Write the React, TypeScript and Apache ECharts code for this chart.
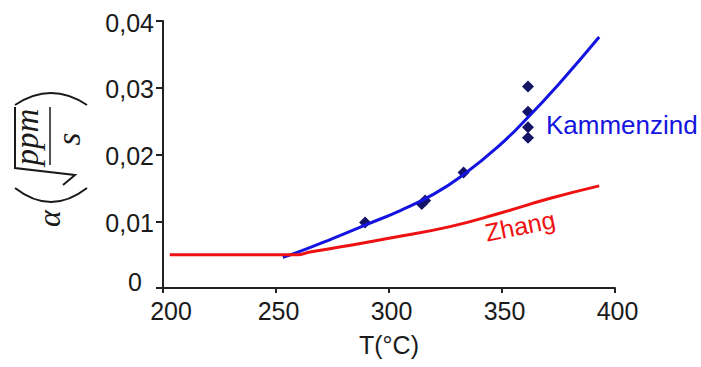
import React, { useEffect, useRef } from "react";
import * as echarts from "echarts";

// Kammenzind fit curve (T in °C, alpha)
const kammenzindT = [253, 260, 275, 290, 305, 320, 333, 348, 361, 375, 393];
const kammenzindA = [0.0046, 0.0054, 0.0074, 0.0095, 0.0116, 0.0141, 0.0170, 0.0211, 0.0254, 0.0305, 0.0376];

// Zhang curve
const zhangT = [203, 260, 265, 283, 300, 327, 349, 371, 393];
const zhangA = [0.005, 0.005, 0.0054, 0.0064, 0.00745, 0.0092, 0.0112, 0.0134, 0.0153];

// Experimental points
const expT = [289.4, 314.5, 316, 333, 361.5, 361.5, 361.5, 361.5];
const expA = [0.0098, 0.0126, 0.0131, 0.0173, 0.0302, 0.0264, 0.0241, 0.0225];

const xTicks = { min: 200, max: 400, interval: 50 };
const yTicks = { min: 0, max: 0.04, interval: 0.01 };

const SANS = '"Liberation Sans", Arial, sans-serif';
const SERIF = '"Liberation Serif", "Times New Roman", serif';
const INK = "#1a1a1a";
const BLUE = "#1414e0";
const RED = "#ee1111";
const NAVY = "#141466";

export default function App() {
  const ref = useRef<HTMLDivElement>(null);

  useEffect(() => {
    if (!ref.current) return;
    const chart = echarts.init(ref.current, null, { renderer: "svg" });
    const zip = (a: number[], b: number[]) => a.map((v, i) => [v, b[i]]);

    const mathFont = `italic 33px ${SERIF}`;

    const option: any = {
      animation: false,
      grid: { left: 163, right: 86, top: 21, bottom: 79, containLabel: false },
      xAxis: {
        type: "value",
        min: xTicks.min,
        max: xTicks.max,
        interval: xTicks.interval,
        name: "T(°C)",
        nameLocation: "middle",
        nameGap: 44,
        nameTextStyle: { fontSize: 25, fontFamily: SANS, color: INK },
        axisLine: { lineStyle: { color: "#222", width: 2 } },
        axisTick: { length: 5, lineStyle: { color: "#222", width: 2 } },
        axisLabel: {
          fontSize: 25,
          fontFamily: SANS,
          color: INK,
          margin: 10,
          formatter: (v: number) => (v === 200 ? `{f|${v}}` : `{n|${v}}`),
          rich: {
            f: { fontSize: 25, fontFamily: SANS, color: INK, padding: [0, 0, 0, 16] },
            n: { fontSize: 25, fontFamily: SANS, color: INK, padding: [0, 0, 0, 5] },
          },
        },
        splitLine: { show: false },
      },
      yAxis: {
        type: "value",
        min: yTicks.min,
        max: yTicks.max,
        interval: yTicks.interval,
        axisLine: { show: true, lineStyle: { color: "#222", width: 2 } },
        axisTick: { show: true, length: 7, lineStyle: { color: "#222", width: 2 } },
        axisLabel: {
          fontSize: 25,
          fontFamily: SANS,
          color: INK,
          margin: 9,
          formatter: (v: number) =>
            v === 0 ? "{z|0}" : `{n|${v.toFixed(2).replace(".", ",")}}`,
          rich: {
            z: { fontSize: 25, fontFamily: SANS, color: INK, padding: [0, 12, 12, 0] },
            n: { fontSize: 25, fontFamily: SANS, color: INK, padding: [3, 0, 0, 0] },
          },
        },
        splitLine: { show: false },
      },
      series: [
        {
          name: "Experiment",
          type: "scatter",
          symbol: "diamond",
          symbolSize: [12, 12],
          itemStyle: { color: NAVY, opacity: 1 },
          data: zip(expT, expA),
          z: 2,
        },
        {
          name: "Kammenzind",
          type: "line",
          smooth: true,
          showSymbol: false,
          lineStyle: { color: BLUE, width: 3 },
          data: zip(kammenzindT, kammenzindA),
          z: 3,
        },
        {
          name: "Zhang",
          type: "line",
          smooth: true,
          showSymbol: false,
          lineStyle: { color: RED, width: 3 },
          data: zip(zhangT, zhangA),
          z: 4,
        },
      ],
      graphic: [
        {
          type: "text",
          x: 546,
          y: 125,
          style: {
            text: "Kammenzind",
            fill: BLUE,
            font: `26px ${SANS}`,
            textAlign: "left",
            textVerticalAlign: "middle",
          },
        },
        {
          type: "text",
          x: 520,
          y: 226,
          rotation: 0.2,
          style: {
            text: "Zhang",
            fill: RED,
            font: `25px ${SANS}`,
            textAlign: "center",
            textVerticalAlign: "middle",
          },
        },
        {
          type: "group",
          x: 15,
          y: 227,
          rotation: Math.PI / 2,
          children: [
            {
              type: "text",
              x: 0,
              y: 34,
              style: {
                text: "α",
                fill: INK,
                font: `italic 32px ${SERIF}`,
                textAlign: "left",
                textVerticalAlign: "middle",
              },
            },
            {
              type: "bezierCurve",
              shape: { x1: 39, y1: 0, x2: 39, y2: 72, cpx1: 11, cpy1: 36 },
              style: { stroke: INK, lineWidth: 2, fill: "none" },
            },
            {
              type: "polyline",
              shape: { points: [[42, 48], [52, 60], [59, 0], [120, 0]] },
              style: { stroke: INK, lineWidth: 2, fill: "none" },
            },
            {
              type: "text",
              x: 90,
              y: 12,
              style: {
                text: "ppm",
                fill: INK,
                font: mathFont,
                textAlign: "center",
                textVerticalAlign: "middle",
              },
            },
            {
              type: "line",
              shape: { x1: 62, y1: 35, x2: 120, y2: 35 },
              style: { stroke: INK, lineWidth: 1.5 },
            },
            {
              type: "text",
              x: 88,
              y: 54,
              style: {
                text: "s",
                fill: INK,
                font: mathFont,
                textAlign: "center",
                textVerticalAlign: "middle",
              },
            },
            {
              type: "bezierCurve",
              shape: { x1: 122, y1: 0, x2: 122, y2: 72, cpx1: 146, cpy1: 36 },
              style: { stroke: INK, lineWidth: 2, fill: "none" },
            },
          ],
        },
      ],
    };

    chart.setOption(option);
    return () => chart.dispose();
  }, []);

  return (
    <div
      ref={ref}
      style={{ position: "fixed", left: 0, top: 0, width: 701, height: 367, background: "#fff" }}
    />
  );
}
